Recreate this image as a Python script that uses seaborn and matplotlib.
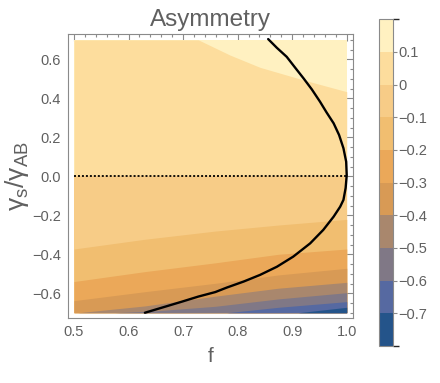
import numpy as np
import seaborn as sns
import matplotlib.pyplot as plt
from matplotlib.colors import ListedColormap, BoundaryNorm
from matplotlib.cm import ScalarMappable
from matplotlib.ticker import MultipleLocator

# contour levels and band colours (lowest band first)
levels = [-0.8, -0.7, -0.6, -0.5, -0.4, -0.3, -0.2, -0.1, 0.0, 0.1, 0.2]
band_colors = ['#24548a', '#5669a1', '#807886', '#a9876d', '#d89a55',
               '#eba859', '#f1be70', '#f7cc87', '#fddd9d', '#fff1c1']
cbar_ticks = [-0.7, -0.6, -0.5, -0.4, -0.3, -0.2, -0.1, 0.0, 0.1]
cbar_labels = ['\u22120.7', '\u22120.6', '\u22120.5', '\u22120.4', '\u22120.3',
               '\u22120.2', '\u22120.1', '0', '0.1']

# contour boundaries (f, gamma_s/gamma_AB)
f_b01 = [0.5, 0.728, 0.786, 0.841, 0.921, 1.0]
g_b01 = [0.7, 0.7, 0.622, 0.559, 0.494, 0.434]
f_b00 = [0.5, 1.0]
g_b00 = [0.0, 0.0]
f_bm01 = [0.5, 0.63, 0.759, 0.875, 1.0]
g_bm01 = [-0.373, -0.323, -0.281, -0.250, -0.221]
f_bm02 = [0.5, 0.63, 0.759, 0.875, 1.0]
g_bm02 = [-0.540, -0.489, -0.444, -0.400, -0.373]
f_bm03 = [0.5, 0.63, 0.759, 0.875, 1.0]
g_bm03 = [-0.638, -0.592, -0.549, -0.506, -0.472]
f_bm04 = [0.507, 0.63, 0.759, 0.875, 1.0]
g_bm04 = [-0.7, -0.665, -0.615, -0.574, -0.544]
f_bm05 = [0.575, 0.65, 0.759, 0.875, 1.0]
g_bm05 = [-0.7, -0.69, -0.667, -0.629, -0.597]
f_bm06 = [0.78, 0.875, 1.0]
g_bm06 = [-0.7, -0.672, -0.643]
f_bm07 = [0.911, 1.0]
g_bm07 = [-0.7, -0.672]

# black curve, bottom to top
curve_f = [0.630, 0.667, 0.698, 0.728, 0.759, 0.780, 0.811, 0.841, 0.872,
           0.902, 0.933, 0.957, 0.976, 0.988, 0.994, 0.998, 1.0,
           0.999, 0.994, 0.986, 0.976, 0.963, 0.951, 0.936, 0.921, 0.905,
           0.890, 0.872, 0.856]
curve_g = [-0.700, -0.669, -0.643, -0.617, -0.594, -0.571, -0.540, -0.506, -0.464,
           -0.412, -0.344, -0.275, -0.207, -0.156, -0.121, -0.060, 0.005,
           0.075, 0.144, 0.212, 0.272, 0.328, 0.383, 0.446, 0.502, 0.559,
           0.613, 0.659, 0.704]

sns.set_theme(style='white')
plt.rcParams['font.family'] = ['Liberation Sans', 'DejaVu Sans']
gray = '#8a8a8a'
txt = '#606060'

fig = plt.figure(figsize=(4.4, 3.83), dpi=100)
ax = fig.add_axes([0.1545, 0.1697, 0.648, 0.7415])
cax = fig.add_axes([0.861, 0.0966, 0.0318, 0.853])

# paint bands from the top down, each one covering everything below its boundary
ax.fill_between([0.5, 1.0], -0.7, 0.7, color=band_colors[9], lw=0)
bounds = [(f_b01, g_b01), (f_b00, g_b00), (f_bm01, g_bm01), (f_bm02, g_bm02),
          (f_bm03, g_bm03), (f_bm04, g_bm04), (f_bm05, g_bm05),
          (f_bm06, g_bm06), (f_bm07, g_bm07)]
for i, (fb, gb) in enumerate(bounds):
    ax.fill_between(fb, -0.7, gb, color=band_colors[8 - i], lw=0)

ax.plot([0.5, 1.0], [0, 0], color='black', ls=(0, (1.1, 1.1)), lw=1.3)
sns.lineplot(x=curve_f, y=curve_g, sort=False, estimator=None, color='black',
             lw=1.7, ax=ax)

ax.set_xlim(0.489, 1.0117)
ax.set_ylim(-0.727, 0.730)
ax.xaxis.set_major_locator(MultipleLocator(0.1))
ax.xaxis.set_minor_locator(MultipleLocator(0.02))
ax.yaxis.set_major_locator(MultipleLocator(0.2))
ax.yaxis.set_minor_locator(MultipleLocator(0.05))
ax.set_xticks([0.5, 0.6, 0.7, 0.8, 0.9, 1.0])
ax.set_xticklabels(['0.5', '0.6', '0.7', '0.8', '0.9', '1.0'])
ax.set_yticks([-0.6, -0.4, -0.2, 0.0, 0.2, 0.4, 0.6])
ax.set_yticklabels(['\u22120.6', '\u22120.4', '\u22120.2', '0.0', '0.2', '0.4', '0.6'])
ax.tick_params(which='both', direction='in', top=True, right=True, color=gray,
               labelcolor=txt, labelsize=10.5, width=0.8)
ax.tick_params(which='major', length=5, pad=5)
ax.tick_params(which='minor', length=2.5)
for s in ax.spines.values():
    s.set_color(gray)
    s.set_linewidth(0.8)

ax.set_title('Asymmetry', color=txt, fontsize=17.5, pad=6)
ax.set_xlabel('f', color=txt, fontsize=15, labelpad=6)
ax.set_ylabel(r'$\mathregular{γ_s/γ_{AB}}$', color=txt, fontsize=19,
              labelpad=1)

cmap = ListedColormap(band_colors)
norm = BoundaryNorm(levels, cmap.N)
cb = fig.colorbar(ScalarMappable(norm=norm, cmap=cmap), cax=cax,
                  boundaries=levels, ticks=cbar_ticks)
cb.ax.set_yticklabels(cbar_labels)
cb.ax.tick_params(length=3, width=0.8, color=gray, labelcolor=txt,
                  labelsize=10.5, pad=1)
cb.outline.set_edgecolor(gray)
cb.outline.set_linewidth(0.8)

fig.savefig('out.png', dpi=100)
